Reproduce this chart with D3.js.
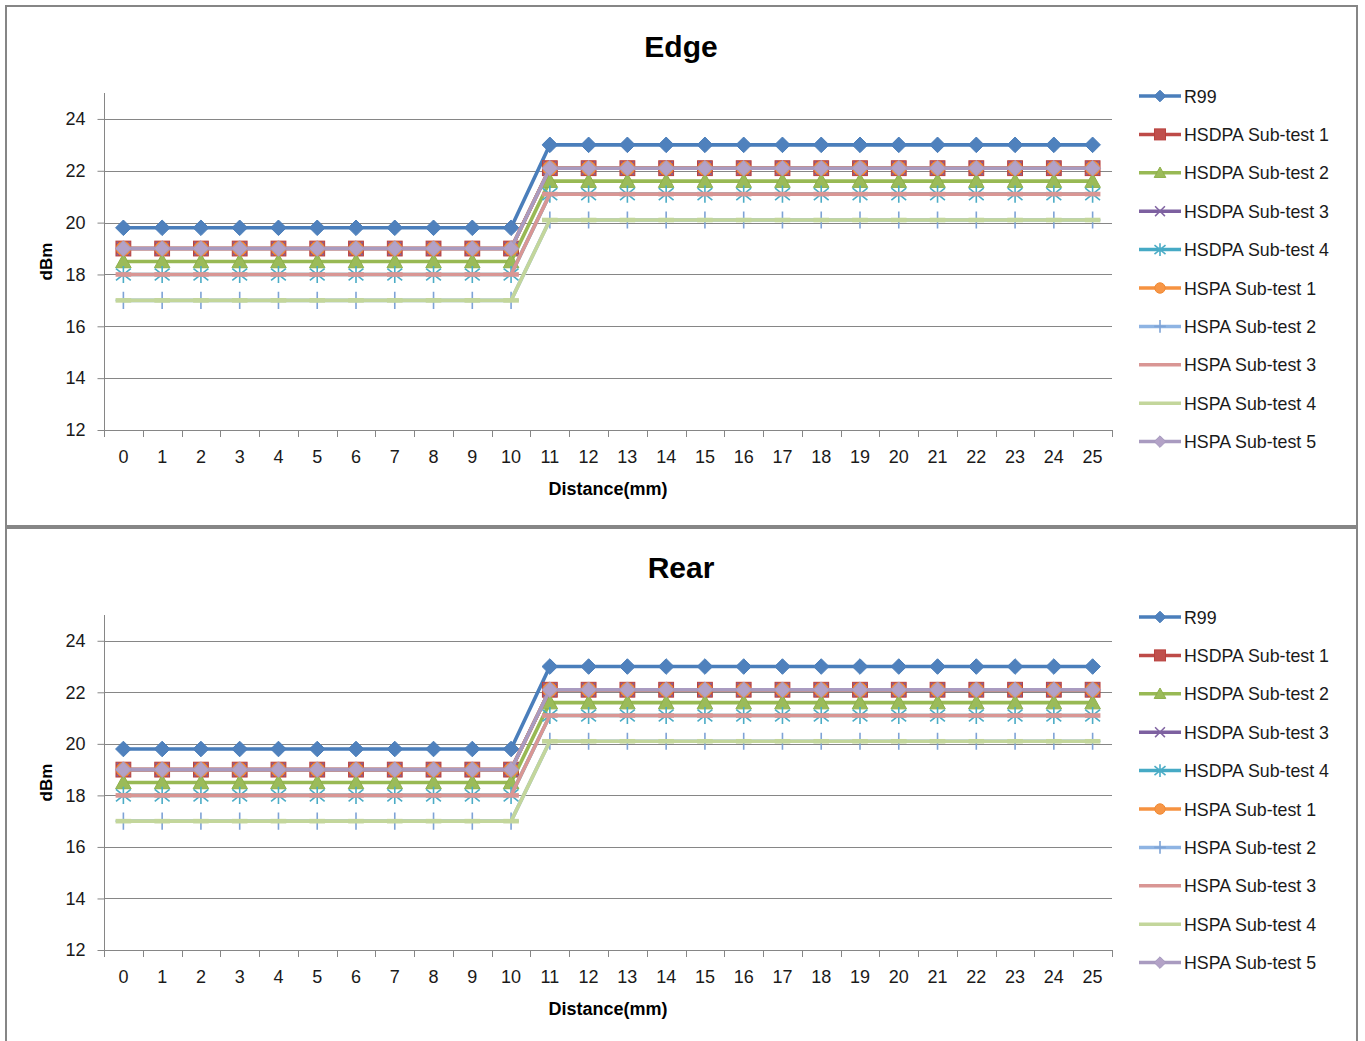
<!DOCTYPE html>
<html>
<head>
<meta charset="utf-8">
<script src="https://cdn.jsdelivr.net/npm/d3@7"></script>
<style>
  html, body { margin: 0; padding: 0; background: #fff; }
  svg { display: block; font-family: "Liberation Sans", Arial, sans-serif; }
</style>
</head>
<body>
<svg id="chart" width="1365" height="1041"></svg>
<script>
// ---------------- DATA ----------------
const categories = ["0","1","2","3","4","5","6","7","8","9","10","11","12","13","14","15","16","17","18","19","20","21","22","23","24","25"];
const yTicks = [12, 14, 16, 18, 20, 22, 24];
const seriesNames = ["R99","HSDPA Sub-test 1","HSDPA Sub-test 2","HSDPA Sub-test 3","HSDPA Sub-test 4","HSPA Sub-test 1","HSPA Sub-test 2","HSPA Sub-test 3","HSPA Sub-test 4","HSPA Sub-test 5"];

// Edge
const edgeR99   = [19.8,19.8,19.8,19.8,19.8,19.8,19.8,19.8,19.8,19.8,19.8,23.0,23.0,23.0,23.0,23.0,23.0,23.0,23.0,23.0,23.0,23.0,23.0,23.0,23.0,23.0];
const edgeHsdpa1 = [19.0,19.0,19.0,19.0,19.0,19.0,19.0,19.0,19.0,19.0,19.0,22.1,22.1,22.1,22.1,22.1,22.1,22.1,22.1,22.1,22.1,22.1,22.1,22.1,22.1,22.1];
const edgeHsdpa2 = [18.5,18.5,18.5,18.5,18.5,18.5,18.5,18.5,18.5,18.5,18.5,21.6,21.6,21.6,21.6,21.6,21.6,21.6,21.6,21.6,21.6,21.6,21.6,21.6,21.6,21.6];
const edgeHsdpa3 = [19.0,19.0,19.0,19.0,19.0,19.0,19.0,19.0,19.0,19.0,19.0,22.1,22.1,22.1,22.1,22.1,22.1,22.1,22.1,22.1,22.1,22.1,22.1,22.1,22.1,22.1];
const edgeHsdpa4 = [18.0,18.0,18.0,18.0,18.0,18.0,18.0,18.0,18.0,18.0,18.0,21.1,21.1,21.1,21.1,21.1,21.1,21.1,21.1,21.1,21.1,21.1,21.1,21.1,21.1,21.1];
const edgeHspa1  = [19.0,19.0,19.0,19.0,19.0,19.0,19.0,19.0,19.0,19.0,19.0,22.1,22.1,22.1,22.1,22.1,22.1,22.1,22.1,22.1,22.1,22.1,22.1,22.1,22.1,22.1];
const edgeHspa2  = [17.0,17.0,17.0,17.0,17.0,17.0,17.0,17.0,17.0,17.0,17.0,20.1,20.1,20.1,20.1,20.1,20.1,20.1,20.1,20.1,20.1,20.1,20.1,20.1,20.1,20.1];
const edgeHspa3  = [18.0,18.0,18.0,18.0,18.0,18.0,18.0,18.0,18.0,18.0,18.0,21.1,21.1,21.1,21.1,21.1,21.1,21.1,21.1,21.1,21.1,21.1,21.1,21.1,21.1,21.1];
const edgeHspa4  = [17.0,17.0,17.0,17.0,17.0,17.0,17.0,17.0,17.0,17.0,17.0,20.1,20.1,20.1,20.1,20.1,20.1,20.1,20.1,20.1,20.1,20.1,20.1,20.1,20.1,20.1];
const edgeHspa5  = [19.0,19.0,19.0,19.0,19.0,19.0,19.0,19.0,19.0,19.0,19.0,22.1,22.1,22.1,22.1,22.1,22.1,22.1,22.1,22.1,22.1,22.1,22.1,22.1,22.1,22.1];

// Rear
const rearR99    = [19.8,19.8,19.8,19.8,19.8,19.8,19.8,19.8,19.8,19.8,19.8,23.0,23.0,23.0,23.0,23.0,23.0,23.0,23.0,23.0,23.0,23.0,23.0,23.0,23.0,23.0];
const rearHsdpa1 = [19.0,19.0,19.0,19.0,19.0,19.0,19.0,19.0,19.0,19.0,19.0,22.1,22.1,22.1,22.1,22.1,22.1,22.1,22.1,22.1,22.1,22.1,22.1,22.1,22.1,22.1];
const rearHsdpa2 = [18.5,18.5,18.5,18.5,18.5,18.5,18.5,18.5,18.5,18.5,18.5,21.6,21.6,21.6,21.6,21.6,21.6,21.6,21.6,21.6,21.6,21.6,21.6,21.6,21.6,21.6];
const rearHsdpa3 = [19.0,19.0,19.0,19.0,19.0,19.0,19.0,19.0,19.0,19.0,19.0,22.1,22.1,22.1,22.1,22.1,22.1,22.1,22.1,22.1,22.1,22.1,22.1,22.1,22.1,22.1];
const rearHsdpa4 = [18.0,18.0,18.0,18.0,18.0,18.0,18.0,18.0,18.0,18.0,18.0,21.1,21.1,21.1,21.1,21.1,21.1,21.1,21.1,21.1,21.1,21.1,21.1,21.1,21.1,21.1];
const rearHspa1  = [19.0,19.0,19.0,19.0,19.0,19.0,19.0,19.0,19.0,19.0,19.0,22.1,22.1,22.1,22.1,22.1,22.1,22.1,22.1,22.1,22.1,22.1,22.1,22.1,22.1,22.1];
const rearHspa2  = [17.0,17.0,17.0,17.0,17.0,17.0,17.0,17.0,17.0,17.0,17.0,20.1,20.1,20.1,20.1,20.1,20.1,20.1,20.1,20.1,20.1,20.1,20.1,20.1,20.1,20.1];
const rearHspa3  = [18.0,18.0,18.0,18.0,18.0,18.0,18.0,18.0,18.0,18.0,18.0,21.1,21.1,21.1,21.1,21.1,21.1,21.1,21.1,21.1,21.1,21.1,21.1,21.1,21.1,21.1];
const rearHspa4  = [17.0,17.0,17.0,17.0,17.0,17.0,17.0,17.0,17.0,17.0,17.0,20.1,20.1,20.1,20.1,20.1,20.1,20.1,20.1,20.1,20.1,20.1,20.1,20.1,20.1,20.1];
const rearHspa5  = [19.0,19.0,19.0,19.0,19.0,19.0,19.0,19.0,19.0,19.0,19.0,22.1,22.1,22.1,22.1,22.1,22.1,22.1,22.1,22.1,22.1,22.1,22.1,22.1,22.1,22.1];

// ---------------- STYLE ----------------
const styles = [
  { line: "#4A7EBB", fill: "#4F81BD", stroke: "#4A7EBB", marker: "diamond" },
  { line: "#BE4B48", fill: "#C0504D", stroke: "#B9413E", marker: "square" },
  { line: "#98B954", fill: "#9BBB59", stroke: "#8EB04A", marker: "triangle" },
  { line: "#7D60A0", fill: "none",    stroke: "#8064A2", marker: "x" },
  { line: "#46AAC5", fill: "none",    stroke: "#4BACC6", marker: "star" },
  { line: "#F69240", fill: "#F79646", stroke: "#F08A35", marker: "circle" },
  { line: "#8EB4E3", fill: "none",    stroke: "#7EA3D6", marker: "plus" },
  { line: "#D99694", fill: "#D99694", stroke: "#D99694", marker: "dash" },
  { line: "#C3D69B", fill: "#C3D69B", stroke: "#C3D69B", marker: "dash" },
  { line: "#A99BC0", fill: "#B3A2C7", stroke: "#A599BD", marker: "diamond" }
];

const charts = [
  { title: "Edge", top: 6,   plotTop: 93,  plotBottom: 430,
    series: [edgeR99, edgeHsdpa1, edgeHsdpa2, edgeHsdpa3, edgeHsdpa4, edgeHspa1, edgeHspa2, edgeHspa3, edgeHspa4, edgeHspa5] },
  { title: "Rear", top: 527, plotTop: 615, plotBottom: 950,
    series: [rearR99, rearHsdpa1, rearHsdpa2, rearHsdpa3, rearHsdpa4, rearHspa1, rearHspa2, rearHspa3, rearHspa4, rearHspa5] }
];

const svg = d3.select("#chart");
const axisColor = "#868686";
const plotLeft = 104, plotRight = 1112;

function drawMarker(g, type, st, cx, cy, s, legend) {
  const m = g.append("g").attr("transform", `translate(${cx},${cy})`);
  if (type === "diamond") {
    m.append("path").attr("d", `M0,${-s}L${s},0L0,${s}L${-s},0Z`)
      .attr("fill", st.fill).attr("stroke", st.stroke).attr("stroke-width", 1);
  } else if (type === "square") {
    const h = s * 0.95;
    m.append("rect").attr("x", -h).attr("y", -h).attr("width", 2 * h).attr("height", 2 * h)
      .attr("fill", st.fill).attr("stroke", st.stroke).attr("stroke-width", 1);
  } else if (type === "triangle") {
    m.append("path").attr("d", `M0,${-s}L${s},${s * 0.8}L${-s},${s * 0.8}Z`)
      .attr("fill", st.fill).attr("stroke", st.stroke).attr("stroke-width", 1);
  } else if (type === "circle") {
    m.append("circle").attr("r", s * 0.9)
      .attr("fill", st.fill).attr("stroke", st.stroke).attr("stroke-width", 1);
  } else if (type === "x") {
    const h = s * 0.85;
    m.append("path").attr("d", `M${-h},${-h}L${h},${h}M${-h},${h}L${h},${-h}`)
      .attr("fill", "none").attr("stroke", st.stroke).attr("stroke-width", 1.5);
  } else if (type === "star") {
    const h = s * 0.95;
    m.append("path").attr("d", `M${-h},${-h * 0.8}L${h},${h * 0.8}M${-h},${h * 0.8}L${h},${-h * 0.8}M0,${-s * 1.1}L0,${s * 1.1}`)
      .attr("fill", "none").attr("stroke", st.stroke).attr("stroke-width", 1.6);
  } else if (type === "plus") {
    m.append("path").attr("d", `M0,${-s * 1.1}L0,${s * 1.1}M${-s},0L${s},0`)
      .attr("fill", "none").attr("stroke", st.stroke).attr("stroke-width", 1.6);
  } else if (type === "dash") {
    if (!legend) {
      m.append("rect").attr("x", -s).attr("y", -2.3).attr("width", 2 * s).attr("height", 4.6)
        .attr("fill", st.fill).attr("stroke", "none");
    }
  }
}

// Frames
svg.append("rect").attr("x", 6).attr("y", 6).attr("width", 1351).attr("height", 520)
  .attr("fill", "none").attr("stroke", axisColor).attr("stroke-width", 2);
svg.append("rect").attr("x", 6).attr("y", 528).attr("width", 1351).attr("height", 540)
  .attr("fill", "none").attr("stroke", axisColor).attr("stroke-width", 2);

charts.forEach(ch => {
  const g = svg.append("g");
  const x = d3.scaleBand().domain(categories).range([plotLeft, plotRight]).padding(0);
  const y = d3.scaleLinear().domain([12, 25]).range([ch.plotBottom, ch.plotTop]);
  const cx = d => x(d) + x.bandwidth() / 2;

  // Title
  g.append("text").attr("x", 681).attr("y", ch.top + 51)
    .attr("text-anchor", "middle").attr("font-size", 30).attr("font-weight", "bold")
    .attr("fill", "#000").text(ch.title);

  // Gridlines
  g.selectAll(".grid").data(yTicks.filter(t => t > 12)).enter().append("line")
    .attr("x1", plotLeft).attr("x2", plotRight)
    .attr("y1", d => Math.round(y(d)) + 0.5).attr("y2", d => Math.round(y(d)) + 0.5)
    .attr("stroke", axisColor).attr("stroke-width", 1);

  // Y axis
  const yAxis = d3.axisLeft(y).tickValues(yTicks).tickSize(7).tickPadding(12).tickFormat(d3.format("d"));
  const ya = g.append("g").attr("transform", `translate(${plotLeft + 0.5},0)`).call(yAxis);
  ya.select(".domain").attr("stroke", axisColor).attr("d", `M0,${ch.plotTop}V${ch.plotBottom}`);
  ya.selectAll(".tick line").attr("stroke", axisColor);
  ya.selectAll(".tick text").attr("font-size", 18).attr("fill", "#1a1a1a")
    .attr("font-family", "Liberation Sans, Arial, sans-serif");

  // X axis line
  g.append("line").attr("x1", plotLeft).attr("x2", plotRight)
    .attr("y1", Math.round(y(12)) + 0.5).attr("y2", Math.round(y(12)) + 0.5)
    .attr("stroke", axisColor).attr("stroke-width", 1);
  // X ticks between categories
  const edges = categories.map(c => x(c)).concat([x(categories[categories.length - 1]) + x.bandwidth()]);
  g.selectAll(".xt").data(edges).enter().append("line")
    .attr("x1", d => Math.round(d) + 0.5).attr("x2", d => Math.round(d) + 0.5)
    .attr("y1", y(12)).attr("y2", y(12) + 7)
    .attr("stroke", axisColor);
  g.selectAll(".xl").data(categories).enter().append("text")
    .attr("x", d => cx(d)).attr("y", y(12) + 33)
    .attr("text-anchor", "middle").attr("font-size", 18).attr("fill", "#1a1a1a").text(d => d);

  // Axis titles
  g.append("text").attr("x", 608).attr("y", y(12) + 65)
    .attr("text-anchor", "middle").attr("font-size", 18).attr("font-weight", "bold")
    .attr("fill", "#000").text("Distance(mm)");
  g.append("text").attr("transform", `translate(52,${(ch.plotTop + ch.plotBottom) / 2}) rotate(-90)`)
    .attr("text-anchor", "middle").attr("font-size", 17).attr("font-weight", "bold")
    .attr("fill", "#000").text("dBm");

  // Series
  const line = d3.line().x((d, i) => cx(categories[i])).y(d => y(d));
  ch.series.forEach((vals, si) => {
    const st = styles[si];
    const sg = g.append("g");
    sg.append("path").datum(vals).attr("d", line)
      .attr("fill", "none").attr("stroke", st.line).attr("stroke-width", 3.6)
      .attr("stroke-linejoin", "round");
    vals.forEach((v, i) => {
      drawMarker(sg, st.marker, st, cx(categories[i]), y(v), 7.8, false);
    });
  });

  // Legend
  seriesNames.forEach((name, i) => {
    const ly = ch.top + 90 + i * 38.4;
    const st = styles[i];
    const lg = g.append("g");
    lg.append("line").attr("x1", 1139).attr("x2", 1181).attr("y1", ly).attr("y2", ly)
      .attr("stroke", st.line).attr("stroke-width", 3.5);
    drawMarker(lg, st.marker, st, 1160, ly, 5.8, true);
    lg.append("text").attr("x", 1184).attr("y", ly + 6.5)
      .attr("font-size", 17.8).attr("fill", "#1a1a1a").text(name);
  });
});
</script>
</body>
</html>
